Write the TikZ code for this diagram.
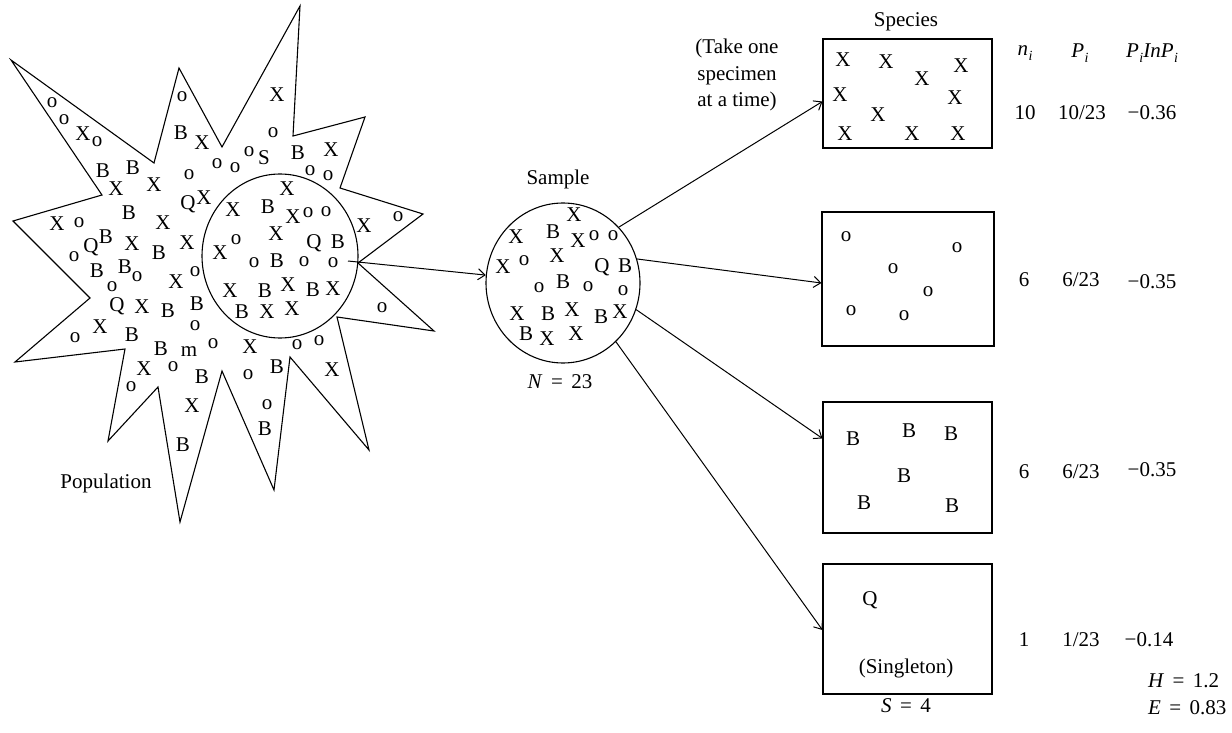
\documentclass[tikz,border=0pt]{standalone}
\usepackage{fontspec}
\setmainfont{Liberation Serif}
\usetikzlibrary{shapes.geometric,arrows.meta}
\newcommand{\mysub}[2]{\textit{#1}\kern0.5pt\raisebox{-0.25em}{\fontsize{14}{16}\selectfont\textit{#2}}}
\newcommand{\myeq}{\hspace{0.4em}=\hspace{0.4em}}
\tikzset{
  lt/.style={inner sep=0pt, font=\fontsize{21}{24}\selectfont},
  boxnode/.style={draw, line width=1.1pt, inner sep=0pt},
  circ/.style={draw, ellipse, line width=1.1pt, inner sep=0pt},
  arr/.style={line width=1pt, -{Straight Barb[length=7pt,width=11pt]}}
}
\begin{document}
\begin{tikzpicture}[x=1pt,y=-1pt]
\useasboundingbox (0,0) rectangle (1232,733);
% population star
\draw[line width=1.1pt, line join=miter] (11,60) -- (154,163) -- (179,68) -- (222,147) -- (300,6) -- (293,136) -- (365,117) -- (340,188) -- (423,214) -- (358,263) -- (434,331) -- (337,317) -- (369,450) -- (290,357) -- (274,490) -- (222,371) -- (180,522) -- (158,387) -- (108,441) -- (125,349) -- (15,362) -- (90,298) -- (13,221) -- (102,195) -- cycle;
\node[circ, minimum width=156pt, minimum height=164pt] (popc) at (280,256) {};
\foreach \t/\x/\y [count=\i] in {o/52/103, o/64/120, X/83/134, o/97/142, o/182/97, B/181/133, X/202/143, o/217/164, o/235/168, B/103/171, B/133/168, X/116/189, X/154/185, o/189/175, Q/188/204, X/204/198, B/129/213, X/57/224, o/79/223, X/163/223, o/74/257, Q/91/247, B/106/237, X/132/244, B/159/253, X/187/243, B/97/271, B/125/267, o/137/277, X/176/282, o/195/272, o/112/287, Q/117/306, X/142/307, B/168/311, B/197/304, o/195/326, o/75/338, X/100/327, B/132/335, B/161/349, m/189/352, o/213/344, X/144/369, o/173/367, B/202/377, o/131/387, X/192/406, B/183/445, X/277/95, o/273/133, o/249/152, S/264/158, B/298/153, X/331/150, o/310/171, o/328/176, X/364/226, o/398/217, o/382/308, X/250/347, o/297/345, o/319/341, B/277/367, o/248/375, X/332/370, o/267/405, B/265/429}
  \node[lt] (s\i) at (\x,\y) {\t};
\foreach \t/\x/\y [count=\i] in {X/287/189, X/233/210, B/268/207, X/293/217, o/308/213, o/326/212, X/220/253, o/236/240, X/276/234, Q/314/243, B/338/242, o/254/263, B/277/261, o/304/262, o/333/263, X/230/291, B/265/291, X/288/285, B/313/290, X/333/289, B/242/312, X/267/312, X/292/309}
  \node[lt] (c\i) at (\x,\y) {\t};
\node[lt] (poplabel) at (106,483) {Population};
% sample
\node[circ, minimum width=154pt, minimum height=160pt] (samp) at (563,283) {};
\foreach \t/\x/\y [count=\i] in {X/574/215, B/553/232, X/516/237, X/578/241, o/594/236, o/613/236, X/557/256, X/503/267, o/524/261, Q/602/267, B/625/266, B/563/282, o/539/288, o/588/287, o/623/291, X/517/314, B/548/314, X/572/310, B/601/317, X/620/312, B/526/334, X/547/339, X/576/334}
  \node[lt] (m\i) at (\x,\y) {\t};
\node[lt] (samplabel) at (558,179) {Sample};
\node[lt] (nlabel) at (560,382) {\textit{N}\myeq 23};
% species boxes
\node[lt] (species) at (906,22) {Species};
\node[lt, align=center, font=\fontsize{21}{26.5}\selectfont] (take) at (737,75) {(Take one\\specimen\\at a time)};
\node[boxnode, minimum width=169pt, minimum height=109pt] (box1) at (907.5,93.5) {};
\node[boxnode, minimum width=172pt, minimum height=134pt] (box2) at (908,279) {};
\node[boxnode, minimum width=169pt, minimum height=131pt] (box3) at (907.5,467.5) {};
\node[boxnode, minimum width=169pt, minimum height=130pt] (box4) at (907.5,629) {};
\foreach \x/\y [count=\i] in {843/60, 886/62, 922/79, 961/66, 840/95, 955/98, 878/115, 845/134, 912/134, 958/134}
  \node[lt] (bx\i) at (\x,\y) {X};
\foreach \x/\y [count=\i] in {846/237, 957/248, 893/269, 928/292, 851/311, 904/316}
  \node[lt] (bo\i) at (\x,\y) {o};
\foreach \x/\y [count=\i] in {853/439, 909/431, 951/434, 904/476, 864/503, 952/506}
  \node[lt] (bb\i) at (\x,\y) {B};
\node[lt] (bq) at (870,600) {Q};
\node[lt] (single) at (906,668) {(Singleton)};
\node[lt] (slabel) at (906,706) {\textit{S}\myeq 4};
% table
\node[lt] (h1) at (1025,53) {\mysub{n}{i}};
\node[lt] (h2) at (1080,53) {\mysub{P}{i}};
\node[lt] (h3) at (1152,53) {\mysub{P}{i}\textit{InP}\kern0.5pt\raisebox{-0.25em}{\fontsize{14}{16}\selectfont\textit{i}}};
\node[lt] (r1a) at (1025,113) {10};
\node[lt] (r1b) at (1082,113) {10/23};
\node[lt] (r1c) at (1152,113) {−0.36};
\node[lt] (r2a) at (1024,280) {6};
\node[lt] (r2b) at (1081,280) {6/23};
\node[lt] (r2c) at (1152,282) {−0.35};
\node[lt] (r3a) at (1024,472) {6};
\node[lt] (r3b) at (1081,472) {6/23};
\node[lt] (r3c) at (1152,470) {−0.35};
\node[lt] (r4a) at (1024,640) {1};
\node[lt] (r4b) at (1081,640) {1/23};
\node[lt] (r4c) at (1149,640) {−0.14};
\node[lt, anchor=west] (hval) at (1148,681) {\textit{H}\myeq 1.2};
\node[lt, anchor=west] (eval) at (1148,708) {\textit{E}\myeq 0.83};
% arrows
\coordinate (a0) at (348,261);
\draw[arr] (a0) -- (samp);
\draw[arr] (samp.45) -- ([yshift=-8pt]box1.west);
\draw[arr] (samp.18) -- ([yshift=-4pt]box2.west);
\draw[arr] (samp.-20) -- ([yshift=-37pt]box3.north west);
\draw[arr] (samp.-48) -- ([yshift=-1pt]box4.west);
\end{tikzpicture}
\end{document}
